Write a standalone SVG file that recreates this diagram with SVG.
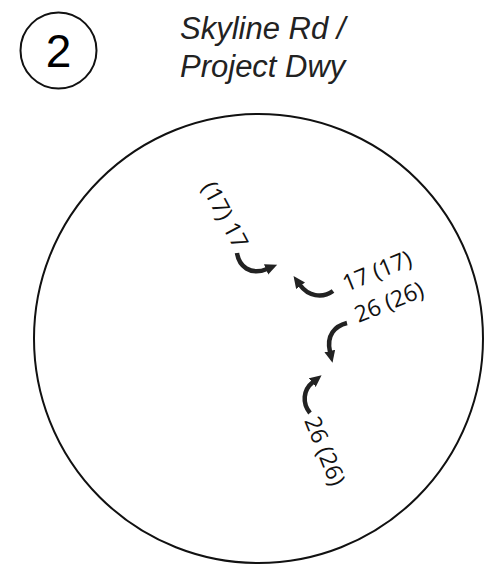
<svg xmlns="http://www.w3.org/2000/svg" width="499" height="571" viewBox="0 0 499 571">
  <style>
    .outline { fill: none; stroke: #111; stroke-width: 2; }
    .title { font-family: "Liberation Sans", Arial, sans-serif; font-style: italic; font-size: 31px; fill: #222; }
    .num { font-family: "Liberation Sans", Arial, sans-serif; font-size: 46px; fill: #000; }
    .vol { font-family: "Open Sans", "Noto Sans", sans-serif; font-size: 23px; fill: #111; }
    .arrow { fill: none; stroke: #222; stroke-width: 4.5; marker-end: url(#ah); }
  </style>
  <defs>
    <marker id="ah" markerUnits="userSpaceOnUse" markerWidth="13" markerHeight="12" refX="1" refY="5.5" orient="auto">
      <path d="M0,0 L12,5.5 L0,11 z" fill="#222"/>
    </marker>
  </defs>
  <rect width="499" height="571" fill="#fff"/>
  <g id="badge">
    <circle class="outline" cx="58.5" cy="50.5" r="38"/>
    <text class="num" x="58.5" y="67" text-anchor="middle">2</text>
  </g>
  <g id="title">
    <text class="title" x="180" y="39">Skyline Rd /</text>
    <text class="title" x="180" y="77">Project Dwy</text>
  </g>
  <g id="intersection">
    <circle class="outline" cx="258.5" cy="338.5" r="224.5"/>
  </g>
  <g id="connectors">
    <path class="arrow" d="M237,253 C239,266 250,276 267,269"/>
    <path class="arrow" d="M333,291 C322,299 308,296 300,285"/>
    <path class="arrow" d="M347,323 C335,326 326,335 330,352"/>
    <path class="arrow" d="M310,413 C302,403 303,390 313,382"/>
  </g>
  <g id="label-nw">
    <text class="vol" transform="translate(225,215) rotate(62)" text-anchor="middle" y="8">(17) 17</text>
  </g>
  <g id="label-e1">
    <text class="vol" transform="translate(377,271) rotate(-22)" text-anchor="middle" y="8">17 (17)</text>
  </g>
  <g id="label-e2">
    <text class="vol" transform="translate(389,302) rotate(-22)" text-anchor="middle" y="8">26 (26)</text>
  </g>
  <g id="label-s">
    <text class="vol" transform="translate(325,451) rotate(68)" text-anchor="middle" y="8">26 (26)</text>
  </g>
</svg>
